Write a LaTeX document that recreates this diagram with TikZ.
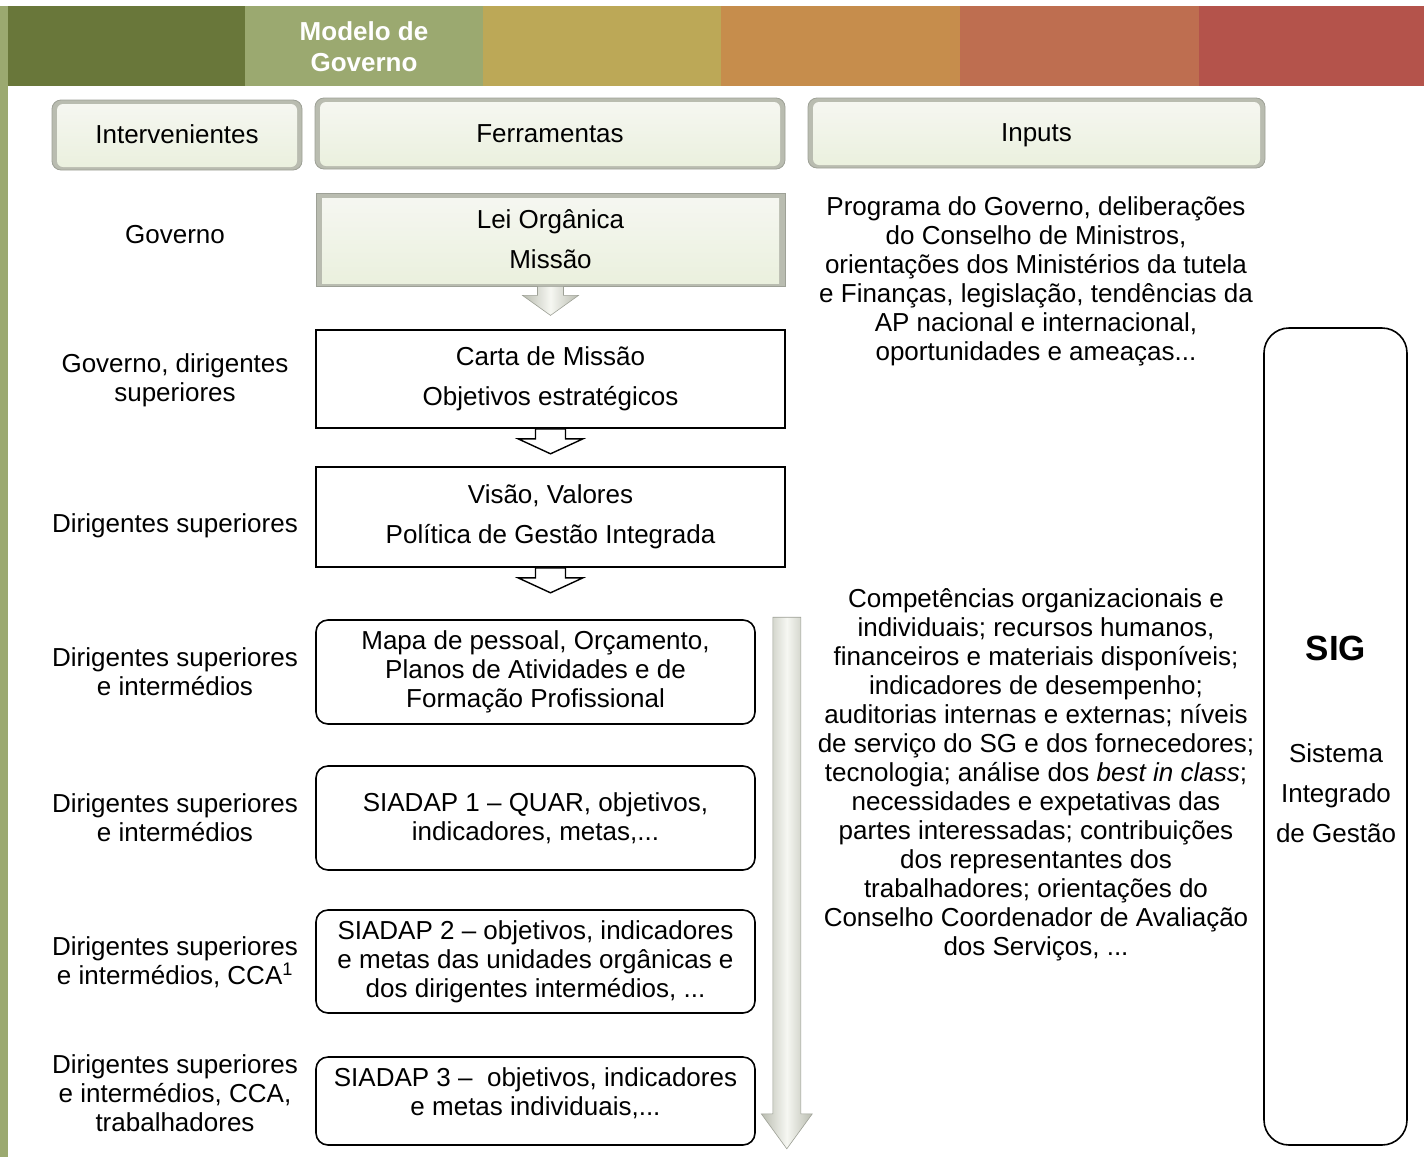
\documentclass[tikz,border=0pt]{standalone}
\usepackage{fontspec}
\setmainfont{Liberation Sans}
\usetikzlibrary{calc}
\definecolor{barA}{HTML}{69773A}
\definecolor{barB}{HTML}{9BA970}
\definecolor{barC}{HTML}{BCA857}
\definecolor{barD}{HTML}{C68D4C}
\definecolor{barE}{HTML}{BE6E50}
\definecolor{barF}{HTML}{B4534B}
\definecolor{bevel}{HTML}{B9BCB0}
\definecolor{paleTop}{HTML}{F6F7F2}
\definecolor{paleBot}{HTML}{EAF0DD}
\tikzset{
  txt/.style={align=center,font=\fontsize{26}{29}\selectfont},
  txtwide/.style={align=center,font=\fontsize{26}{40}\selectfont},
  hdr/.style={txt,text height=21pt,text depth=3.5pt,rounded corners=9pt,fill=bevel,draw=bevel!85!black,line width=0.8pt,
    path picture={\fill[rounded corners=6pt,top color=paleTop,bottom color=paleBot]
      ([shift={(5pt,-4pt)}]path picture bounding box.north west) rectangle
      ([shift={(-5pt,3pt)}]path picture bounding box.south east);}},
  leibox/.style={txtwide,fill=bevel,draw=bevel!85!black,line width=0.8pt,
    path picture={\fill[sharp corners,top color=paleTop,bottom color=paleBot]
      ([shift={(6pt,-5pt)}]path picture bounding box.north west) rectangle
      ([shift={(-6pt,3pt)}]path picture bounding box.south east);}},
  sbox/.style={txtwide,draw,line width=1.6pt},
  rbox/.style={txt,draw,line width=1.6pt,rounded corners=12pt},
  shadarrow/.style={draw=bevel!85!black,line width=0.6pt,left color=bevel,right color=bevel,middle color=paleTop},
  openarrow/.style={draw,line width=1.4pt,fill=white}
}
\newcommand\hollowdown[1]{\draw[openarrow] ($(#1)+(-15,0)$) -- ++(0,10) -- ++(-17.5,0) -- ($(#1)+(0,25)$) -- ++(32.5,-15) -- ++(-17.5,0) -- ++(0,-10) -- cycle;}
\begin{document}
\begin{tikzpicture}[x=1pt,y=-1pt]
\useasboundingbox (0,0) rectangle (1424,1157);
\fill[barB] (0,6) rectangle (8,1157);
\fill[barA] (8,6) rectangle (245,86);
\fill[barB] (245,6) rectangle (483,86);
\fill[barC] (483,6) rectangle (721,86);
\fill[barD] (721,6) rectangle (960,86);
\fill[barE] (960,6) rectangle (1199,86);
\fill[barF] (1199,6) rectangle (1424,86);
\node (modelo) at (364,46.5) [text=white,align=center,font=\bfseries\fontsize{26}{31}\selectfont] {Modelo de\\Governo};

\node (hint) at (177,135) [hdr,minimum width=250pt,minimum height=70pt] {Intervenientes};
\node (hfer) at (550,133.5) [hdr,minimum width=470pt,minimum height=71pt] {Ferramentas};
\node (hinp) at (1036.5,133) [hdr,minimum width=457pt,minimum height=70pt] {Inputs};

\node (lei) at (550.5,239.5) [leibox,minimum width=469pt,minimum height=93pt] {Lei Orgânica\\Missão};
\node (carta) at (550.5,379) [sbox,minimum width=469pt,minimum height=98pt] {Carta de Missão\\Objetivos estratégicos};
\node (visao) at (550.5,517) [sbox,minimum width=469pt,minimum height=100pt] {Visão, Valores\\Política de Gestão Integrada};
\node (mapa) at (535.5,672) [rbox,minimum width=439pt,minimum height=104pt] {Mapa de pessoal, Orçamento,\\Planos de Atividades e de\\Formação Profissional};
\node (siadap1) at (535.5,818) [rbox,minimum width=439pt,minimum height=104pt] {SIADAP 1 – QUAR, objetivos,\\indicadores, metas,...};
\node (siadap2) at (535.5,961.5) [rbox,minimum width=439pt,minimum height=103pt] {SIADAP 2 – objetivos, indicadores\\e metas das unidades orgânicas e\\dos dirigentes intermédios, ...};
\node (siadap3) at (535.5,1101) [rbox,minimum width=439pt,minimum height=88pt] {};
\node (siadap3t) at (535.5,1093.5) [txt] {SIADAP 3 –\ \ objetivos, indicadores\\e metas individuais,...};

\draw[shadarrow] ($(lei.south)+(-13,0)$) -- ++(0,9) -- ++(-15,0) -- ($(lei.south)+(0,29)$) -- ++(28,-20) -- ++(-15,0) -- ++(0,-9) -- cycle;
\hollowdown{carta.south}
\hollowdown{visao.south}
\coordinate (lt) at ($(mapa.north east)+(31,-2)$);
\coordinate (lb) at ($(siadap3.south east)+(31,3)$);
\draw[shadarrow] ($(lt)+(-14,0)$) -- ($(lb)+(-14,-35)$) -- ++(-11.5,0) -- (lb) -- ($(lb)+(25.5,-35)$) -- ++(-11.5,0) -- ($(lt)+(14,0)$) -- cycle;

\node (gov) at (175,235) [txt] {Governo};
\node (govds) at (175,380.5) [txt] {Governo, dirigentes\\superiores};
\node (ds) at (175,526) [txt] {Dirigentes superiores};
\node (dsi1) at (175,671.5) [txt] {Dirigentes superiores\\e intermédios};
\node (dsi2) at (175,817.5) [txt] {Dirigentes superiores\\e intermédios};
\node (dsi3) at (175,962.5) [txt] {Dirigentes superiores\\e intermédios, CCA\textsuperscript{1}};
\node (dsi4) at (175,1093) [txt] {Dirigentes superiores\\e intermédios, CCA,\\trabalhadores};

\node (prog) at (1036,281.5) [txt] {Programa do Governo, deliberações\\do Conselho de Ministros,\\orientações dos Ministérios da tutela\\e Finanças, legislação, tendências da\\AP nacional e internacional,\\oportunidades e ameaças...};
\node (comp) at (1036,775) [txt] {Competências organizacionais e\\individuais; recursos humanos,\\financeiros e materiais disponíveis;\\indicadores de desempenho;\\auditorias internas e externas; níveis\\de serviço do SG e dos fornecedores;\\tecnologia; análise dos \textit{best in class};\\necessidades e expetativas das\\partes interessadas; contribuições\\dos representantes dos\\trabalhadores; orientações do\\Conselho Coordenador de Avaliação\\dos Serviços, ...};

\node (sig) at (1335.5,736.5) [draw,line width=1.6pt,rounded corners=25pt,minimum width=143pt,minimum height=817pt] {};
\node (sigt) at (1336,648) [font=\bfseries\fontsize{35}{40}\selectfont] {SIG};
\node (sigd) at (1336,793) [txtwide] {Sistema\\Integrado\\de Gestão};
\end{tikzpicture}
\end{document}
